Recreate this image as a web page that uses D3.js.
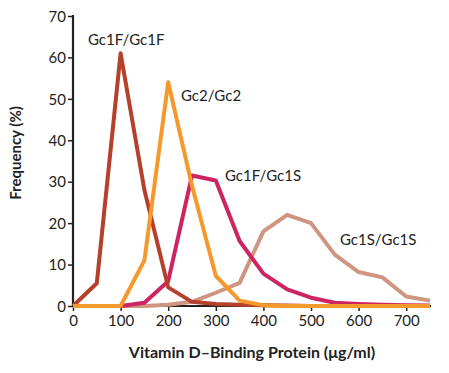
<!DOCTYPE html>
<html lang="en">
<head>
<meta charset="utf-8">
<title>Vitamin D-Binding Protein</title>
<script src="https://d3js.org/d3.v7.min.js"></script>
<style>
  body { margin: 0; background: #fff; }
  text { font-family: Lato, "Open Sans", sans-serif; fill: #222; }
</style>
</head>
<body>
<svg id="chart" width="449" height="373"></svg>
<script>
// values, frequency (%) per 50 ug/ml bin
const xs = [0, 50, 100, 150, 200, 250, 300, 350, 400, 450, 500, 550, 600, 650, 700, 750];
const gc1f1f = [0, 5.5, 61, 28, 4.5, 1, 0.5, 0.3, 0.2, 0.1, 0, 0, 0, 0, 0, 0];
const gc2gc2 = [0, 0, 0, 11, 54, 29, 7.3, 1.3, 0.2, 0, 0, 0, 0, 0, 0, 0];
const gc1f1s = [0, 0, 0, 0.8, 6, 31.5, 30.3, 15.7, 7.8, 4, 2, 0.8, 0.5, 0.3, 0.2, 0.1];
const gc1s1s = [0, 0, 0, 0, 0.3, 1, 3.2, 5.6, 18, 22, 20, 12.4, 8.2, 6.9, 2.3, 1.3];
const xTicks = [0, 100, 200, 300, 400, 500, 600, 700];
const yTicks = [0, 10, 20, 30, 40, 50, 60, 70];

// drawn in this order, orange ends up on top like in the original
const series = [
  { name: "Gc1S/Gc1S", values: gc1s1s, color: "#cf9580", lx: 340, ly: 245 },
  { name: "Gc1F/Gc1S", values: gc1f1s, color: "#cc2561", lx: 225, ly: 181 },
  { name: "Gc1F/Gc1F", values: gc1f1f, color: "#b5402c", lx: 88,  ly: 45 },
  { name: "Gc2/Gc2",   values: gc2gc2, color: "#f5992d", lx: 181, ly: 101 }
];

const svg = d3.select("#chart");
const x = d3.scaleLinear().domain([0, 750]).range([73, 430]);
const y = d3.scaleLinear().domain([0, 70]).range([306, 16]);

// y axis
const yAxis = svg.append("g").attr("transform", "translate(73,0)")
  .call(d3.axisLeft(y).tickValues(yTicks).tickSize(5).tickPadding(2));
yAxis.select(".domain").attr("stroke", "#222").attr("stroke-width", 2.2).attr("d", "M0,15V306");
yAxis.selectAll(".tick line").attr("stroke", "#222").attr("stroke-width", 1.5);
yAxis.selectAll(".tick text").style("font-size", "15px").attr("dy", "0.35em");

// x axis
const xAxis = svg.append("g").attr("transform", "translate(0,306)")
  .call(d3.axisBottom(x).tickValues(xTicks).tickSize(5).tickPadding(4));
xAxis.select(".domain").attr("stroke", "#222").attr("stroke-width", 2.2).attr("d", "M73,0H431");
xAxis.selectAll(".tick line").attr("stroke", "#222").attr("stroke-width", 1.5);
xAxis.selectAll(".tick text").style("font-size", "15px");

const line = d3.line().x((d, i) => x(xs[i])).y(d => y(d));

svg.selectAll(".series")
  .data(series)
  .enter()
  .append("path")
  .attr("class", "series")
  .attr("d", d => line(d.values))
  .attr("fill", "none")
  .attr("stroke", d => d.color)
  .attr("stroke-width", 4)
  .attr("stroke-linejoin", "round");

svg.selectAll(".lab")
  .data(series)
  .enter()
  .append("text")
  .attr("class", "lab")
  .attr("x", d => d.lx)
  .attr("y", d => d.ly)
  .style("font-size", "15px")
  .text(d => d.name);

// axis titles
svg.append("text")
  .attr("transform", "translate(21,153) rotate(-90)")
  .attr("text-anchor", "middle")
  .style("font-size", "15px")
  .style("font-weight", "bold")
  .text("Frequency (%)");

svg.append("text")
  .attr("x", 252)
  .attr("y", 358)
  .attr("text-anchor", "middle")
  .style("font-size", "16px")
  .style("font-weight", "bold")
  .text("Vitamin D\u2013Binding Protein (\u03bcg/ml)");
</script>
</body>
</html>
